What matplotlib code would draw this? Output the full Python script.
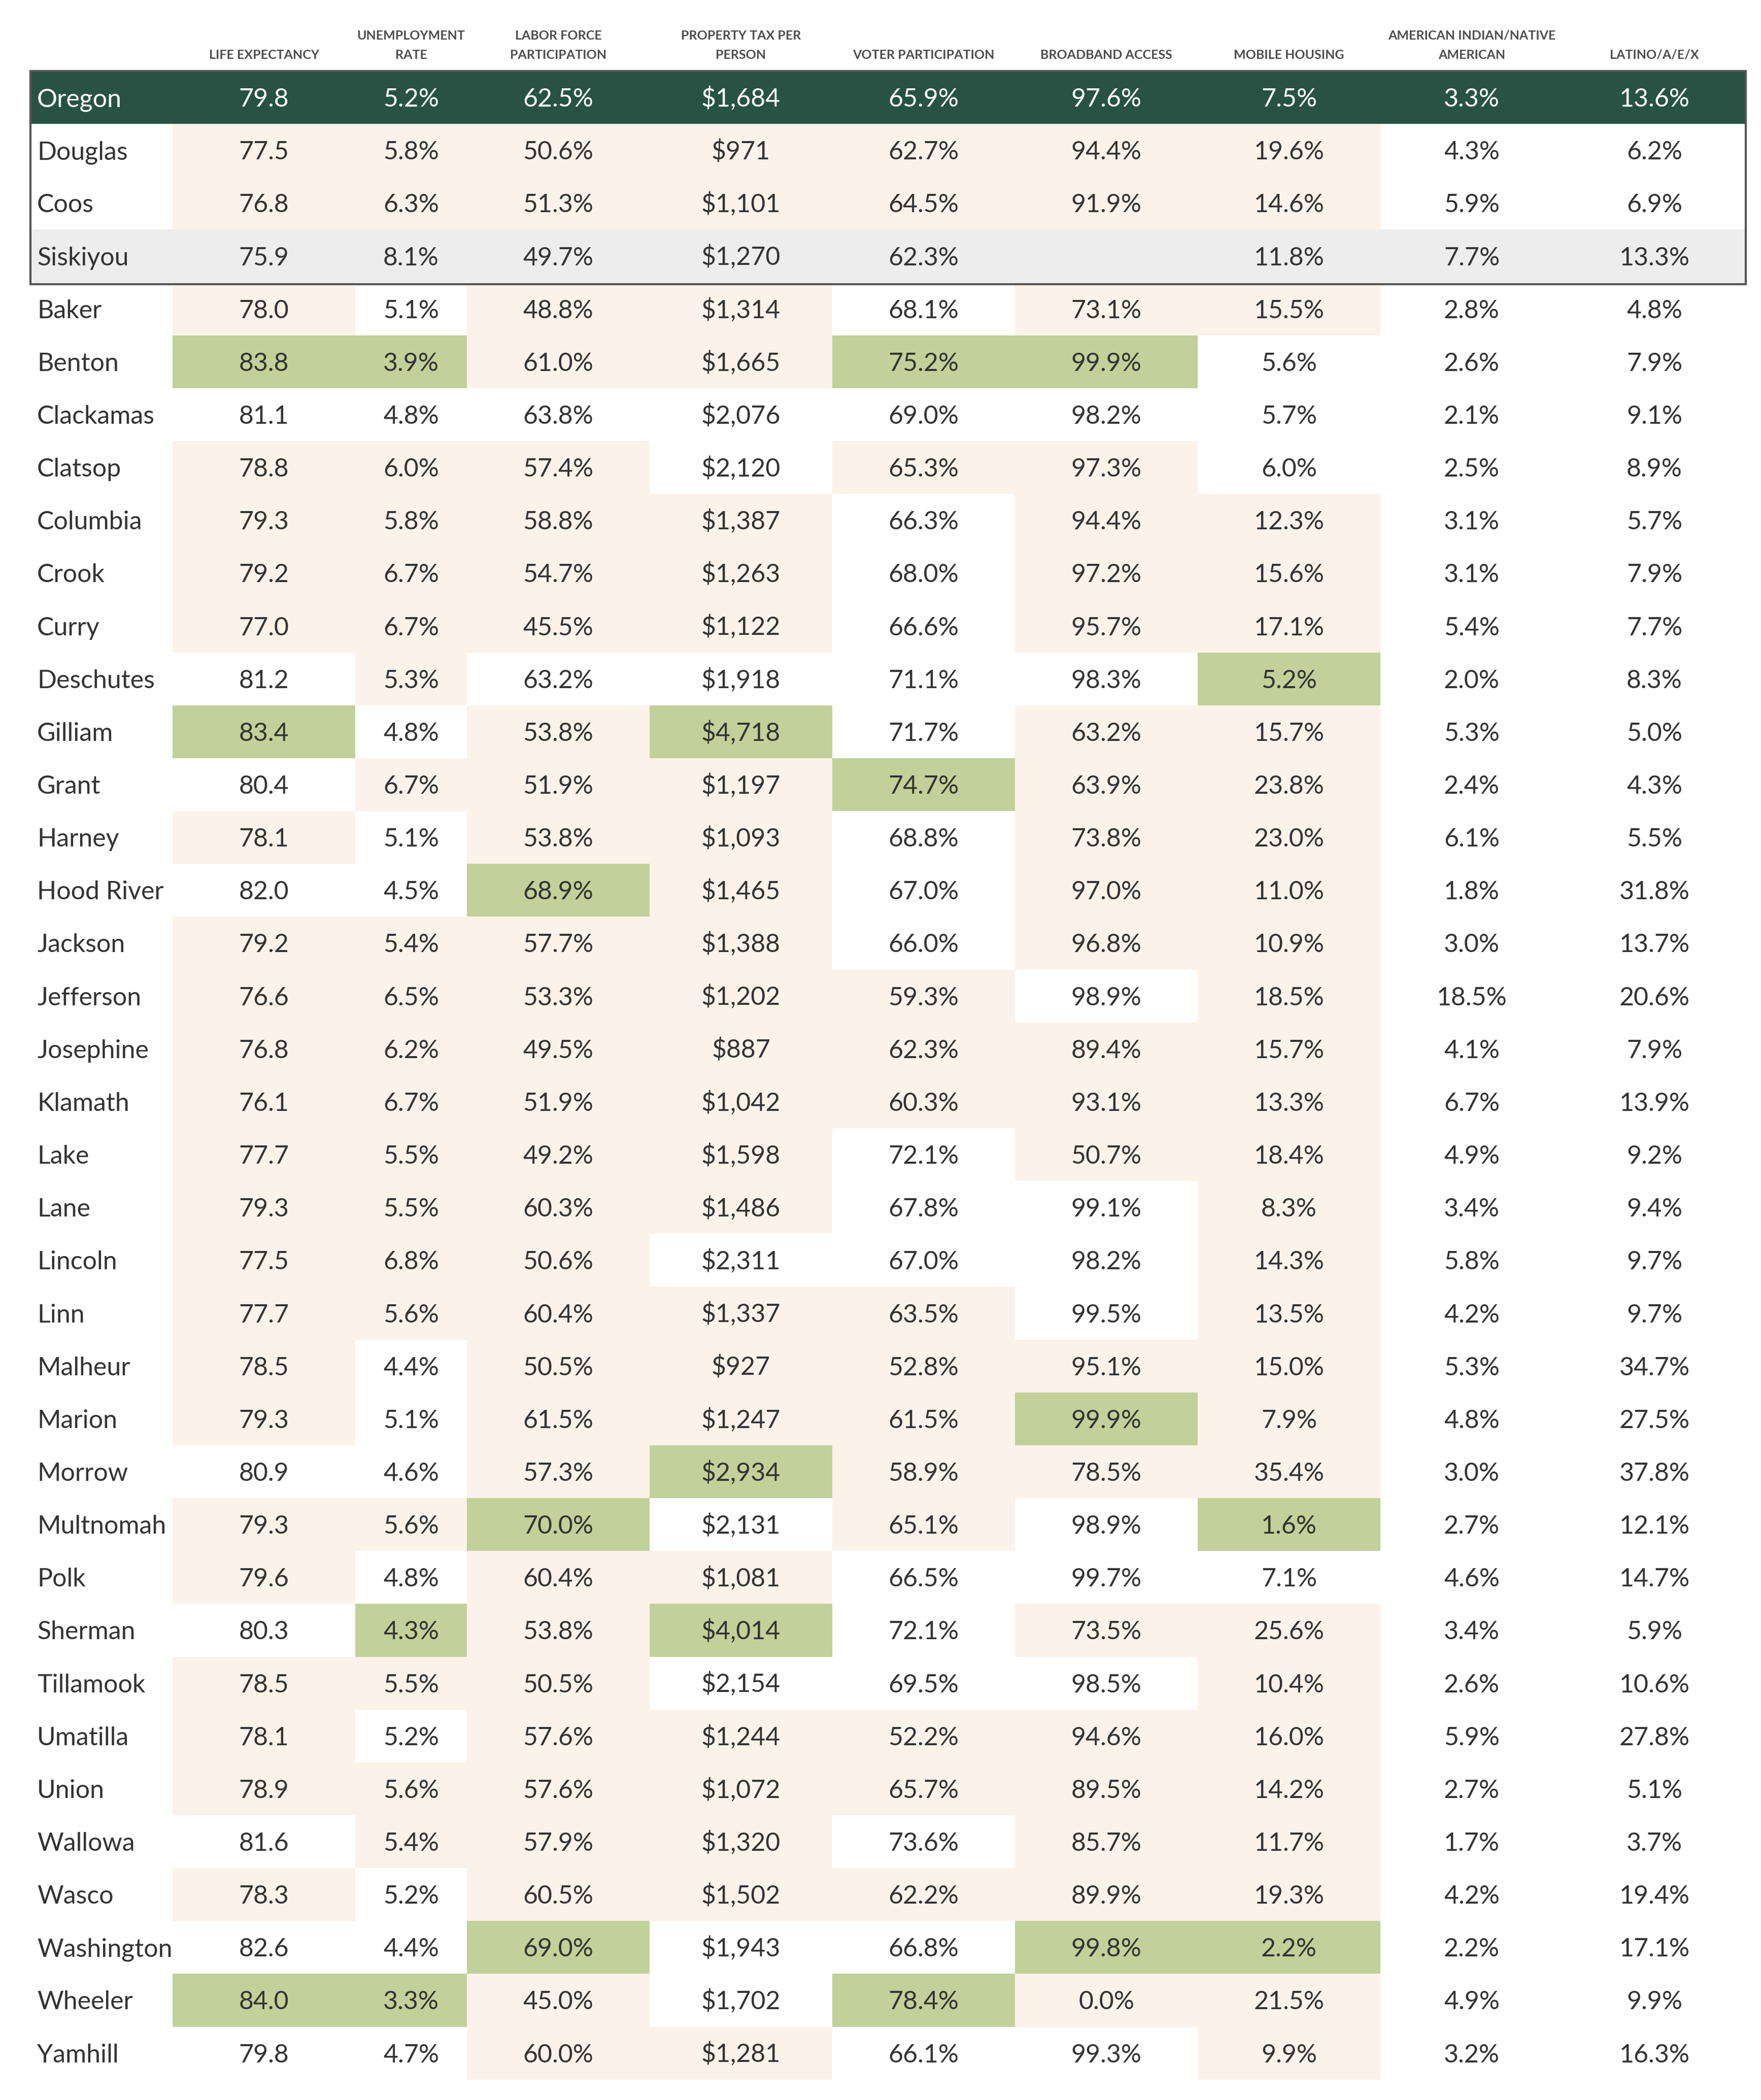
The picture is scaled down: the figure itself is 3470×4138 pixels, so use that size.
"""Oregon county indicators table, redrawn as a colour-coded grid."""

import matplotlib
matplotlib.use("Agg")
import matplotlib.pyplot as plt
from matplotlib.patches import Rectangle

plt.rcParams["font.family"] = ["Lato", "DejaVu Sans"]

# ── Data ─────────────────────────────────────────────────────────────────────
headers = [
    ["LIFE EXPECTANCY"],
    ["UNEMPLOYMENT", "RATE"],
    ["LABOR FORCE", "PARTICIPATION"],
    ["PROPERTY TAX PER", "PERSON"],
    ["VOTER PARTICIPATION"],
    ["BROADBAND ACCESS"],
    ["MOBILE HOUSING"],
    ["AMERICAN INDIAN/NATIVE", "AMERICAN"],
    ["LATINO/A/E/X"],
]

counties = ["Oregon", "Douglas", "Coos", "Siskiyou", "Baker", "Benton", "Clackamas",
            "Clatsop", "Columbia", "Crook", "Curry", "Deschutes", "Gilliam", "Grant",
            "Harney", "Hood River", "Jackson", "Jefferson", "Josephine", "Klamath",
            "Lake", "Lane", "Lincoln", "Linn", "Malheur", "Marion", "Morrow",
            "Multnomah", "Polk", "Sherman", "Tillamook", "Umatilla", "Union",
            "Wallowa", "Wasco", "Washington", "Wheeler", "Yamhill"]

life_exp = [79.8, 77.5, 76.8, 75.9, 78.0, 83.8, 81.1, 78.8, 79.3, 79.2, 77.0, 81.2, 83.4,
            80.4, 78.1, 82.0, 79.2, 76.6, 76.8, 76.1, 77.7, 79.3, 77.5, 77.7, 78.5, 79.3,
            80.9, 79.3, 79.6, 80.3, 78.5, 78.1, 78.9, 81.6, 78.3, 82.6, 84.0, 79.8]
unemployment = [5.2, 5.8, 6.3, 8.1, 5.1, 3.9, 4.8, 6.0, 5.8, 6.7, 6.7, 5.3, 4.8, 6.7, 5.1,
                4.5, 5.4, 6.5, 6.2, 6.7, 5.5, 5.5, 6.8, 5.6, 4.4, 5.1, 4.6, 5.6, 4.8, 4.3,
                5.5, 5.2, 5.6, 5.4, 5.2, 4.4, 3.3, 4.7]
labor_force = [62.5, 50.6, 51.3, 49.7, 48.8, 61.0, 63.8, 57.4, 58.8, 54.7, 45.5, 63.2, 53.8,
               51.9, 53.8, 68.9, 57.7, 53.3, 49.5, 51.9, 49.2, 60.3, 50.6, 60.4, 50.5, 61.5,
               57.3, 70.0, 60.4, 53.8, 50.5, 57.6, 57.6, 57.9, 60.5, 69.0, 45.0, 60.0]
property_tax = [1684, 971, 1101, 1270, 1314, 1665, 2076, 2120, 1387, 1263, 1122, 1918, 4718,
                1197, 1093, 1465, 1388, 1202, 887, 1042, 1598, 1486, 2311, 1337, 927, 1247,
                2934, 2131, 1081, 4014, 2154, 1244, 1072, 1320, 1502, 1943, 1702, 1281]
voter = [65.9, 62.7, 64.5, 62.3, 68.1, 75.2, 69.0, 65.3, 66.3, 68.0, 66.6, 71.1, 71.7, 74.7,
         68.8, 67.0, 66.0, 59.3, 62.3, 60.3, 72.1, 67.8, 67.0, 63.5, 52.8, 61.5, 58.9, 65.1,
         66.5, 72.1, 69.5, 52.2, 65.7, 73.6, 62.2, 66.8, 78.4, 66.1]
broadband = [97.6, 94.4, 91.9, None, 73.1, 99.9, 98.2, 97.3, 94.4, 97.2, 95.7, 98.3, 63.2,
             63.9, 73.8, 97.0, 96.8, 98.9, 89.4, 93.1, 50.7, 99.1, 98.2, 99.5, 95.1, 99.9,
             78.5, 98.9, 99.7, 73.5, 98.5, 94.6, 89.5, 85.7, 89.9, 99.8, 0.0, 99.3]
mobile_housing = [7.5, 19.6, 14.6, 11.8, 15.5, 5.6, 5.7, 6.0, 12.3, 15.6, 17.1, 5.2, 15.7,
                  23.8, 23.0, 11.0, 10.9, 18.5, 15.7, 13.3, 18.4, 8.3, 14.3, 13.5, 15.0, 7.9,
                  35.4, 1.6, 7.1, 25.6, 10.4, 16.0, 14.2, 11.7, 19.3, 2.2, 21.5, 9.9]
native_american = [3.3, 4.3, 5.9, 7.7, 2.8, 2.6, 2.1, 2.5, 3.1, 3.1, 5.4, 2.0, 5.3, 2.4,
                   6.1, 1.8, 3.0, 18.5, 4.1, 6.7, 4.9, 3.4, 5.8, 4.2, 5.3, 4.8, 3.0, 2.7,
                   4.6, 3.4, 2.6, 5.9, 2.7, 1.7, 4.2, 2.2, 4.9, 3.2]
latino = [13.6, 6.2, 6.9, 13.3, 4.8, 7.9, 9.1, 8.9, 5.7, 7.9, 7.7, 8.3, 5.0, 4.3, 5.5, 31.8,
          13.7, 20.6, 7.9, 13.9, 9.2, 9.4, 9.7, 9.7, 34.7, 27.5, 37.8, 12.1, 14.7, 5.9, 10.6,
          27.8, 5.1, 3.7, 19.4, 17.1, 9.9, 16.3]

# cell shading for the first seven indicators: b = worse than state, w = better, g = top
shading = ["", "bbbbbbb", "bbbbbbb", "", "bwbbwbb", "ggbbggw", "wwwwwww", "bbbwbbw",
           "bbbbwbb", "bbbbwbb", "bbbbwbb", "wbwwwwg", "gwbgwbb", "wbbbgbb", "bwbbwbb",
           "wwgbwbb", "bbbbwbb", "bbbbbwb", "bbbbbbb", "bbbbbbb", "bbbbwbb", "bbbbwwb",
           "bbbwwwb", "bbbbbwb", "bwbbbbb", "bwbbbgb", "wwbgbbb", "bbgwbwg", "bwbbwww",
           "wgbgwbb", "bbbwwwb", "bwbbbbb", "bbbbbbb", "wbbbwbb", "bwbbbbb", "wwgwwgg",
           "ggbwgbb", "wwbbwwb"]

# ── Style ────────────────────────────────────────────────────────────────────
DARK_GREEN = "#275244"
BEIGE = "#fbf2ea"
GREEN = "#c1d199"
GREY = "#ededed"
BORDER = "#555555"
TEXT = "#333333"
HEAD = "#4d4d4d"
cell_colors = {"b": BEIGE, "g": GREEN}
row_fill = {"Oregon": DARK_GREEN, "Siskiyou": GREY}

W, H = 3470, 4138
LEFT, RIGHT = 60, 3440
TOP, ROW_H = 140, 104.15
col_edges = [340, 700, 920, 1280, 1640, 2000, 2360, 2720, 3080, 3440]
col_centers = [(a + b) / 2 for a, b in zip(col_edges[:-1], col_edges[1:])]

fmt_num = lambda v: f"{v:.1f}"
fmt_pct = lambda v: "" if v is None else f"{v:.1f}%"
fmt_usd = lambda v: f"${v:,.0f}"
columns = [(life_exp, fmt_num), (unemployment, fmt_pct), (labor_force, fmt_pct),
           (property_tax, fmt_usd), (voter, fmt_pct), (broadband, fmt_pct),
           (mobile_housing, fmt_pct), (native_american, fmt_pct), (latino, fmt_pct)]

fig = plt.figure(figsize=(W / 100, H / 100), dpi=100)
ax = fig.add_axes([0, 0, 1, 1])
ax.set_xlim(0, W)
ax.set_ylim(H, 0)
ax.axis("off")

# headers
for cx, lines in zip(col_centers, headers):
    base = [116] if len(lines) == 1 else [78, 116]
    for txt, by in zip(lines, base):
        ax.text(cx, by, txt, ha="center", va="baseline", fontsize=18,
                fontweight="bold", color=HEAD)

# rows
for i, name in enumerate(counties):
    y0 = TOP + i * ROW_H
    base_y = y0 + ROW_H / 2 + 18
    fg = "white" if name == "Oregon" else TEXT
    if name in row_fill:
        ax.add_patch(Rectangle((LEFT, y0), RIGHT - LEFT, ROW_H, facecolor=row_fill[name],
                               edgecolor="none", zorder=1))
    else:
        for j, code in enumerate(shading[i]):
            if code in cell_colors:
                ax.add_patch(Rectangle((col_edges[j], y0), col_edges[j + 1] - col_edges[j],
                                       ROW_H, facecolor=cell_colors[code],
                                       edgecolor="none", zorder=1))
    ax.text(LEFT + 13, base_y, name, ha="left", va="baseline", fontsize=36, color=fg, zorder=3)
    for cx, (vals, fmt) in zip(col_centers, columns):
        ax.text(cx, base_y, fmt(vals[i]), ha="center", va="baseline", fontsize=36,
                color=fg, zorder=3)

# box around the state row and its comparison counties
ax.add_patch(Rectangle((LEFT, TOP), RIGHT - LEFT, 4 * ROW_H + 3, facecolor="none",
                       edgecolor=BORDER, lw=3, zorder=4))

fig.savefig("out.png", dpi=100)
